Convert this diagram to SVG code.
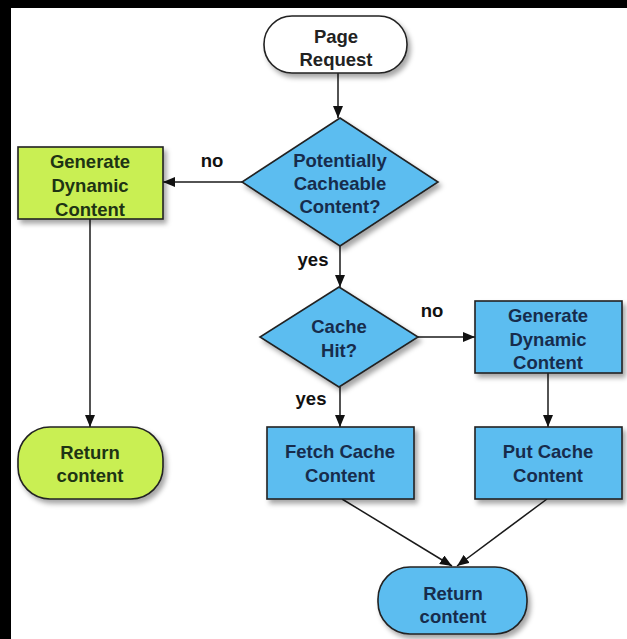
<svg xmlns="http://www.w3.org/2000/svg" width="627" height="639" viewBox="0 0 627 639">
<defs>
<style>
.node{stroke:#222;stroke-width:1.6}
.green{fill:#c9ef52}
.blue{fill:#5cbdf0}
.white{fill:#fff}
text{font-family:"Liberation Sans",Arial,sans-serif;font-weight:bold;font-size:18.5px;text-anchor:middle}
.tg{fill:#1e3414}
.tb{fill:#172c4c}
.tw{fill:#222}
.lbl{fill:#111}
.edge{stroke:#1a1a1a;stroke-width:1.5;fill:none;marker-end:url(#arr)}
</style>
<marker id="arr" viewBox="0 0 12 10" refX="12" refY="5" markerWidth="12" markerHeight="10" markerUnits="userSpaceOnUse" orient="auto">
<path d="M0,0 L12,5 L0,10 z" fill="#111"/>
</marker>
<filter id="sh" x="-10%" y="-10%" width="130%" height="140%">
<feDropShadow dx="3" dy="4" stdDeviation="2.5" flood-color="#000" flood-opacity="0.35"/>
</filter>
</defs>
<rect x="0" y="0" width="627" height="639" fill="#fff"/>
<rect x="0" y="0" width="627" height="8" fill="#000"/>
<rect x="0" y="0" width="11" height="639" fill="#000"/>

<g id="connectors">
<line class="edge" x1="338" y1="73" x2="338" y2="118"/>
<line class="edge" x1="242" y1="182" x2="163" y2="182"/>
<line class="edge" x1="90" y1="219" x2="90" y2="427"/>
<line class="edge" x1="340" y1="246" x2="340" y2="287"/>
<line class="edge" x1="418" y1="337" x2="475" y2="337"/>
<line class="edge" x1="340" y1="387" x2="340" y2="427"/>
<line class="edge" x1="548" y1="373" x2="548" y2="427"/>
<line class="edge" x1="342" y1="499" x2="452" y2="566"/>
<line class="edge" x1="547" y1="499" x2="457" y2="566"/>
<text class="lbl" x="212" y="167">no</text>
<text class="lbl" x="313" y="266">yes</text>
<text class="lbl" x="432" y="317">no</text>
<text class="lbl" x="311" y="405">yes</text>
</g>

<g id="page-request">
<rect class="node white" filter="url(#sh)" x="264" y="16" width="143" height="57" rx="28"/>
<text class="tw" x="336" y="43">Page</text>
<text class="tw" x="336" y="66">Request</text>
</g>

<g id="cacheable">
<polygon class="node blue" filter="url(#sh)" points="340,118 438,182 340,246 242,182"/>
<text class="tb" x="340" y="167">Potentially</text>
<text class="tb" x="340" y="190">Cacheable</text>
<text class="tb" x="340" y="213">Content?</text>
</g>

<g id="generate-left">
<rect class="node green" filter="url(#sh)" x="18" y="147" width="145" height="72"/>
<text class="tg" x="90" y="168">Generate</text>
<text class="tg" x="90" y="192">Dynamic</text>
<text class="tg" x="90" y="216">Content</text>
</g>

<g id="return-left">
<rect class="node green" filter="url(#sh)" x="18" y="427" width="145" height="72" rx="32"/>
<text class="tg" x="90" y="459">Return</text>
<text class="tg" x="90" y="482">content</text>
</g>

<g id="cache-hit">
<polygon class="node blue" filter="url(#sh)" points="339,287 418,337 339,387 260,337"/>
<text class="tb" x="339" y="333">Cache</text>
<text class="tb" x="339" y="357">Hit?</text>
</g>

<g id="generate-right">
<rect class="node blue" filter="url(#sh)" x="475" y="301" width="147" height="72"/>
<text class="tb" x="548" y="322">Generate</text>
<text class="tb" x="548" y="346">Dynamic</text>
<text class="tb" x="548" y="369">Content</text>
</g>

<g id="fetch-cache">
<rect class="node blue" filter="url(#sh)" x="267" y="427" width="147" height="72"/>
<text class="tb" x="340" y="458">Fetch Cache</text>
<text class="tb" x="340" y="482">Content</text>
</g>

<g id="put-cache">
<rect class="node blue" filter="url(#sh)" x="475" y="427" width="147" height="72"/>
<text class="tb" x="548" y="458">Put Cache</text>
<text class="tb" x="548" y="482">Content</text>
</g>

<g id="return-right">
<rect class="node blue" filter="url(#sh)" x="378" y="567" width="149" height="67" rx="32"/>
<text class="tb" x="453" y="600">Return</text>
<text class="tb" x="453" y="623">content</text>
</g>
</svg>
